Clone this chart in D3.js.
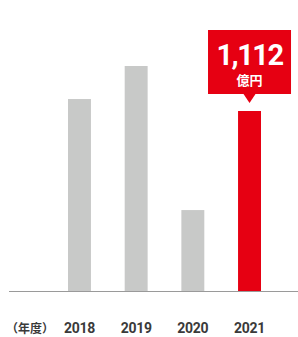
<!DOCTYPE html>
<html>
<head>
<meta charset="utf-8">
<script src="https://cdn.jsdelivr.net/npm/d3@7"></script>
<style>
  html, body { margin: 0; padding: 0; background: #fff; }
  svg { display: block; }
</style>
</head>
<body>
<div id="chart"></div>
<script>
// data
var years = ["2018", "2019", "2020", "2021"];
var values = [1186, 1390, 500, 1112];
var highlightYear = "2021";
var highlightLabel = "1,112";
var unitLabel = "億円";
var axisLabel = "（年度）";

var width = 298, height = 337;
var baseY = 291;

var svg = d3.select("#chart").append("svg")
    .attr("width", width)
    .attr("height", height);

var x = d3.scaleBand()
    .domain(years)
    .range([51, 278])
    .paddingInner(0.595)
    .paddingOuter(0.3);

var y = d3.scaleLinear()
    .domain([0, 1112])
    .range([baseY, 111]);

var grey = "#c8c9c8", red = "#e60012";

// bars
svg.selectAll("rect.bar")
    .data(years)
  .enter().append("rect")
    .attr("class", "bar")
    .attr("x", function(d){ return x(d); })
    .attr("width", x.bandwidth())
    .attr("y", function(d, i){ return y(values[i]); })
    .attr("height", function(d, i){ return baseY - y(values[i]); })
    .style("fill", function(d){ return d == highlightYear ? red : grey; });

// baseline
svg.append("line")
    .attr("x1", 9).attr("x2", width)
    .attr("y1", baseY + 0.5).attr("y2", baseY + 0.5)
    .style("stroke", "#9a9a9a")
    .style("stroke-width", 1);

// year labels
svg.selectAll("text.year")
    .data(years)
  .enter().append("text")
    .attr("class", "year")
    .attr("x", function(d){ return x(d) + x.bandwidth()/2; })
    .attr("y", 333)
    .attr("text-anchor", "middle")
    .style("font-family", "Roboto, 'Noto Sans', sans-serif")
    .style("font-weight", "bold")
    .style("font-size", "14px")
    .style("letter-spacing", "-0.3px")
    .style("fill", "#3a3a3a")
    .text(function(d){ return d; });

svg.append("text")
    .attr("x", 6)
    .attr("y", 333)
    .style("font-family", "'Noto Sans CJK JP', sans-serif")
    .style("font-weight", "bold")
    .style("font-size", "12px")
    .style("fill", "#3a3a3a")
    .text(axisLabel);

// callout over the highlighted bar
var hi = years.indexOf(highlightYear),
    cx = x(highlightYear) + x.bandwidth()/2,
    tipY = y(values[hi]) - 8,
    boxW = 83, boxH = 64,
    boxX = cx - 41.5, boxY = tipY - 9 - boxH;

var callout = svg.append("g").attr("class", "callout");

callout.append("rect")
    .attr("x", boxX).attr("y", boxY)
    .attr("width", boxW).attr("height", boxH)
    .style("fill", red);

callout.append("path")
    .attr("d", "M" + (cx - 6) + "," + (boxY + boxH) + "L" + (cx + 6) + "," + (boxY + boxH) + "L" + cx + "," + tipY + "Z")
    .style("fill", red);

callout.append("text")
    .attr("x", cx)
    .attr("y", boxY + 35)
    .attr("text-anchor", "middle")
    .style("font-family", "Roboto, 'Noto Sans', sans-serif")
    .style("font-weight", "bold")
    .style("font-size", "29px")
    .style("letter-spacing", "-1.5px")
    .style("fill", "#fff")
    .text(highlightLabel);

callout.append("text")
    .attr("x", cx)
    .attr("y", boxY + 55)
    .attr("text-anchor", "middle")
    .style("font-family", "'Noto Sans CJK JP', sans-serif")
    .style("font-weight", "bold")
    .style("font-size", "13px")
    .style("fill", "#fff")
    .text(unitLabel);
</script>
</body>
</html>
